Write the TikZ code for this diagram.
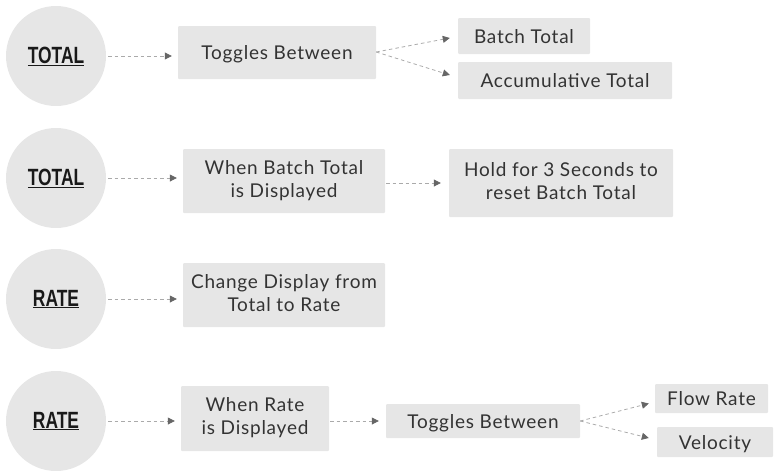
\documentclass[tikz,border=0pt]{standalone}
\usepackage{fontspec}
\setmainfont[LetterSpace=4]{Lato}
\newfontfamily\labfont[FakeStretch=0.74]{Liberation Sans}
\usetikzlibrary{arrows.meta,calc}
\definecolor{boxgray}{HTML}{E6E6E6}
\definecolor{txtgray}{HTML}{333333}
\definecolor{linegray}{HTML}{AAAAAA}
\definecolor{tipgray}{HTML}{666666}
\begin{document}
\begin{tikzpicture}[x=1pt,y=-1pt,
  circ/.style={circle,fill=boxgray,minimum size=100pt,inner sep=0pt,
    font=\labfont\bfseries\fontsize{23.5}{24}\selectfont,text=black!90},
  box/.style={fill=boxgray,rounded corners=1pt,inner sep=0pt,align=center,
    text=txtgray,font=\fontsize{19}{23}\selectfont,
    execute at begin node={\rule[-5pt]{0pt}{24pt}},
    execute at end node={\rule[-5pt]{0pt}{5pt}}},
  conn/.style={draw=linegray,line width=0.8pt,dash pattern=on 3.5pt off 3pt,
    -{Triangle[length=7pt,width=7pt,fill=tipgray,color=tipgray]}}
]
\useasboundingbox (0,0) rectangle (774,472);
% circles
\node[circ] (c1) at (56,56) {\underline{TOTAL}};
\node[circ] (c2) at (56,178) {\underline{TOTAL}};
\node[circ] (c3) at (56,299) {\underline{RATE}};
\node[circ] (c4) at (56,421) {\underline{RATE}};
% boxes
\node[box,minimum width=198pt,minimum height=53pt] (a) at (277,52.5) {Toggles Between};
\node[box,minimum width=132pt,minimum height=36pt] (bt) at (524,36) {Batch Total};
\node[box,minimum width=214pt,minimum height=37pt] (at) at (565,80.5) {Accumulative Total};
\node[box,minimum width=202pt,minimum height=64pt] (b2) at (284,181) {When Batch Total\\is Displayed};
\node[box,minimum width=224pt,minimum height=68pt] (hold) at (561,183) {Hold for 3 Seconds to\\reset Batch Total};
\node[box,minimum width=202pt,minimum height=64pt] (b3) at (284,295) {Change Display from\\Total to Rate};
\node[box,minimum width=148pt,minimum height=65pt] (b4) at (255,418.5) {When Rate\\is Displayed};
\node[box,minimum width=194pt,minimum height=34pt] (t2) at (483,421) {Toggles Between};
\node[box,minimum width=113pt,minimum height=29pt] (fr) at (711.5,398.5) {Flow Rate};
\node[box,minimum width=116pt,minimum height=30pt] (ve) at (715,442) {Velocity};
% connectors
\draw[conn,shorten <=2pt,shorten >=6pt] (c1.east) -- (c1.east -| a.west);
\draw[conn,shorten <=2pt,shorten >=6pt] (c2.east) -- (c2.east -| b2.west);
\draw[conn,shorten <=2pt,shorten >=6pt] (c3.east) -- (c3.east -| b3.west);
\draw[conn,shorten <=2pt,shorten >=6pt] (c4.east) -- (c4.east -| b4.west);
\draw[conn] ($(a.east)+(0,-0.5)$) -- ($(bt.west)+(-8,2)$);
\draw[conn] ($(a.east)+(0,-0.5)$) -- ($(at.west)+(-8,-5.5)$);
\draw[conn,shorten <=1pt,shorten >=8pt] (b2.east |- hold.west) -- (hold.west);
\draw[conn,shorten <=1pt,shorten >=7pt] (t2.west -| b4.east) -- (t2.west);
\draw[conn] (t2.east) -- ($(fr.west)+(-6,5)$);
\draw[conn] (t2.east) -- ($(ve.west)+(-8,-4)$);
\end{tikzpicture}
\end{document}
